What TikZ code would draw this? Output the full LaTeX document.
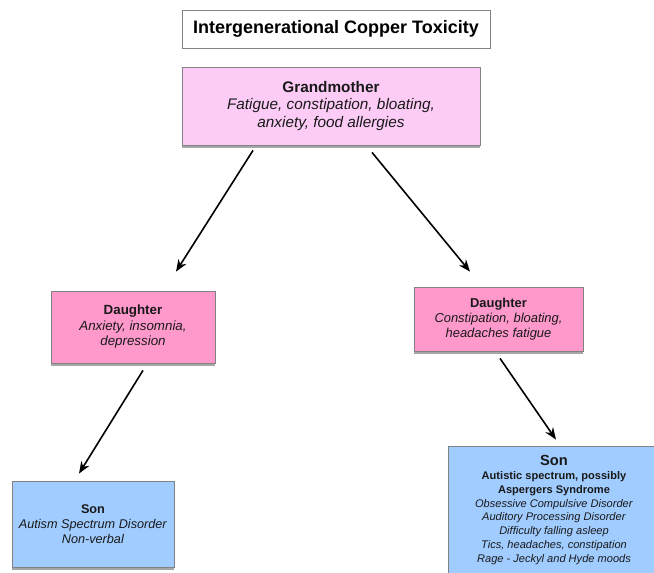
\documentclass[tikz,border=0pt]{standalone}
\usepackage{fontspec}
\setmainfont{Liberation Sans}
\usetikzlibrary{arrows.meta,calc,shadows}

\definecolor{gmpink}{RGB}{252,204,246}
\definecolor{dpink}{RGB}{255,153,204}
\definecolor{sonblue}{RGB}{160,204,255}
\definecolor{boxline}{RGB}{130,130,130}

\begin{document}
\begin{tikzpicture}[x=0.75pt,y=-0.75pt,
  box/.style={rectangle, draw=boxline, line width=0.6pt, align=center, inner sep=2pt,
    text=black!90, drop shadow={shadow xshift=0pt, shadow yshift=-2.5pt, opacity=0.35, fill=black}},
  arr/.style={-{Stealth[length=9pt,width=7pt]}, line width=1.2pt}]

\clip (0,0) rectangle (654,572);
\fill[white] (0,0) rectangle (654,572);

% ======================================================================
% TITLE
% ======================================================================
\node[rectangle, draw=boxline, line width=0.5pt, fill=white, minimum width=231pt, minimum height=28.5pt,
      font=\bfseries\fontsize{13.5}{16}\selectfont] (title) at (336,29)
  {Intergenerational Copper Toxicity};

% ======================================================================
% GENERATION 1
% ======================================================================
\node[box, fill=gmpink, minimum width=223.5pt, minimum height=58.5pt,
      font=\fontsize{11.5}{13.2}\selectfont] (gm) at (331,106)
  {\textbf{Grandmother}\\
   \textit{Fatigue, constipation, bloating,}\\
   \textit{anxiety, food allergies}};

% ======================================================================
% GENERATION 2
% ======================================================================
\node[box, fill=dpink, minimum width=123pt, minimum height=54pt,
      font=\fontsize{10}{11.6}\selectfont] (dl) at (133,327)
  {\textbf{Daughter}\\
   \textit{Anxiety, insomnia,}\\
   \textit{depression}};

\node[box, fill=dpink, minimum width=126.75pt, minimum height=48pt,
      font=\fontsize{9.7}{11.4}\selectfont] (dr) at (498.5,319)
  {\textbf{Daughter}\\
   \textit{Constipation, bloating,}\\
   \textit{headaches fatigue}};

% ======================================================================
% GENERATION 3
% ======================================================================
\node[box, fill=sonblue, minimum width=121.5pt, minimum height=64.5pt,
      font=\fontsize{9.5}{11.2}\selectfont] (sl) at (93,524)
  {\textbf{Son}\\
   \textit{Autism Spectrum Disorder}\\
   \textit{Non-verbal}};

\node[box, fill=sonblue, minimum width=159pt, minimum height=96pt,
      font=\fontsize{8.3}{10.3}\selectfont] (sr) at (554,510)
  {{\bfseries\fontsize{11}{10.3}\selectfont Son}\\
   \textbf{Autistic spectrum, possibly}\\
   \textbf{Aspergers Syndrome}\\
   \textit{Obsessive Compulsive Disorder}\\
   \textit{Auditory Processing Disorder}\\
   \textit{Difficulty falling asleep}\\
   \textit{Tics, headaches, constipation}\\
   \textit{Rage - Jeckyl and Hyde moods}};

% arrows between generations
\draw[arr] ($(gm.south)+(-78,5)$) -- ($(dl.north)+(43,-19)$);
\draw[arr] ($(gm.south)+(41,7)$) -- ($(dr.north)+(-28.5,-15)$);
\draw[arr] ($(dl.south)+(10,7)$) -- ($(sl.north)+(-14,-7)$);
\draw[arr] ($(dr.south)+(1.5,7)$) -- ($(sr.north)+(2,-6)$);

\end{tikzpicture}
\end{document}
